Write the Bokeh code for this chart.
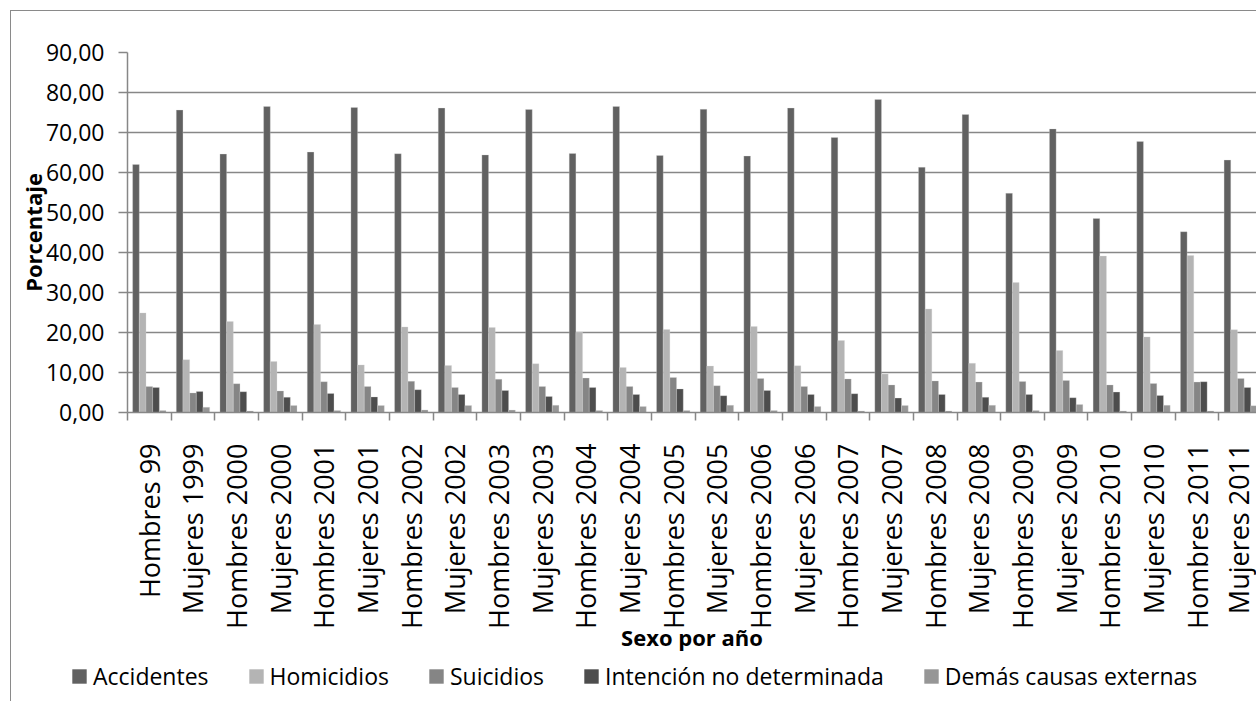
import numpy as np
from math import pi
from bokeh.plotting import figure
from bokeh.layouts import column
from bokeh.models import Range1d, FixedTicker, Legend, LegendItem, ColumnDataSource
from bokeh.transform import dodge
from bokeh.embed import file_html
from bokeh.resources import INLINE

categories = ["Hombres 99", "Mujeres 1999", "Hombres 2000", "Mujeres 2000", "Hombres 2001",
              "Mujeres 2001", "Hombres 2002", "Mujeres 2002", "Hombres 2003", "Mujeres 2003",
              "Hombres 2004", "Mujeres 2004", "Hombres 2005", "Mujeres 2005", "Hombres 2006",
              "Mujeres 2006", "Hombres 2007", "Mujeres 2007", "Hombres 2008", "Mujeres 2008",
              "Hombres 2009", "Mujeres 2009", "Hombres 2010", "Mujeres 2010", "Hombres 2011",
              "Mujeres 2011"]

accidentes = [62.0, 75.6, 64.6, 76.5, 65.1, 76.25, 64.7, 76.1, 64.4, 75.75, 64.75, 76.5, 64.25,
              75.8, 64.1, 76.1, 68.75, 78.25, 61.3, 74.5, 54.8, 70.9, 48.5, 67.75, 45.2, 63.1]
homicidios = [24.9, 13.2, 22.75, 12.75, 22.0, 11.9, 21.4, 11.75, 21.25, 12.2, 20.1, 11.25, 20.75,
              11.6, 21.5, 11.7, 18.0, 9.6, 25.9, 12.3, 32.5, 15.5, 39.1, 18.9, 39.25, 20.7]
suicidios = [6.5, 4.9, 7.2, 5.4, 7.7, 6.5, 7.8, 6.25, 8.3, 6.5, 8.6, 6.5, 8.75, 6.7, 8.5, 6.5,
             8.4, 6.9, 7.9, 7.6, 7.75, 8.0, 6.9, 7.25, 7.6, 8.5]
intencion = [6.25, 5.25, 5.2, 3.8, 4.75, 3.9, 5.7, 4.5, 5.5, 4.0, 6.25, 4.5, 5.9, 4.2, 5.5, 4.5,
             4.7, 3.6, 4.5, 3.8, 4.5, 3.7, 5.1, 4.25, 7.7, 6.25]
demas = [0.5, 1.3, 0.4, 1.75, 0.5, 1.75, 0.65, 1.75, 0.6, 1.8, 0.5, 1.5, 0.5, 1.8, 0.5, 1.5,
         0.4, 1.75, 0.4, 1.8, 0.5, 2.0, 0.4, 1.8, 0.4, 1.7]

series_names = ["Accidentes", "Homicidios", "Suicidios", "Intención no determinada",
                "Demás causas externas"]
series_values = [accidentes, homicidios, suicidios, intencion, demas]
series_colors = ["#616161", "#b4b4b4", "#858585", "#4d4d4d", "#969696"]

y_ticks = [0, 10, 20, 30, 40, 50, 60, 70, 80, 90]
y_tick_labels = ["0,00", "10,00", "20,00", "30,00", "40,00", "50,00", "60,00", "70,00",
                 "80,00", "90,00"]

FONT = "Open Sans"
GRID = "#878787"

idx = list(range(len(categories)))
data = {"x": idx}
for i, vals in enumerate(series_values):
    data["s%d" % i] = vals
source = ColumnDataSource(data)

p = figure(width=1245, height=647, output_backend="svg", toolbar_location=None,
           x_range=Range1d(-0.5, 25.36), y_range=Range1d(0, 90),
           min_border_left=116, min_border_right=0, min_border_top=41,
           min_border_bottom=246)
p.outline_line_color = None
p.background_fill_color = "white"
p.border_fill_color = "white"

bw = 0.153
for i in range(5):
    off = (i - 2) * bw
    p.vbar(x=dodge("x", off), top="s%d" % i, width=bw, source=source,
           fill_color=series_colors[i], line_color="#d9d9d9", line_width=0.5,
           line_alpha=0.6)

# grid
p.xgrid.grid_line_color = None
p.ygrid.ticker = FixedTicker(ticks=y_ticks)
p.ygrid.grid_line_color = GRID
p.ygrid.grid_line_width = 1.5

# y axis
ya = p.yaxis[0]
ya.ticker = FixedTicker(ticks=y_ticks)
ya.major_label_overrides = {t: l for t, l in zip(y_ticks, y_tick_labels)}
ya.axis_line_color = GRID
ya.axis_line_width = 1.5
ya.major_tick_line_color = GRID
ya.major_tick_line_width = 1.5
ya.major_tick_out = 9
ya.major_tick_in = 0
ya.minor_tick_line_color = None
ya.major_label_standoff = 14
ya.major_label_text_font = FONT
ya.major_label_text_font_size = "23px"
ya.major_label_text_color = "black"
ya.axis_label = "Porcentaje"
ya.axis_label_text_font = FONT
ya.axis_label_text_font_style = "bold"
ya.axis_label_text_font_size = "22px"
ya.axis_label_text_color = "black"
ya.axis_label_standoff = -5

# x axis
xa = p.xaxis[0]
xa.ticker = FixedTicker(ticks=idx, minor_ticks=[k - 0.5 for k in range(len(categories) + 1)])
xa.major_label_overrides = {i: c for i, c in enumerate(categories)}
xa.major_label_orientation = pi / 2
xa.axis_line_color = GRID
xa.axis_line_width = 1.5
xa.major_tick_line_color = None
xa.major_tick_out = 0
xa.major_tick_in = 0
xa.minor_tick_line_color = GRID
xa.minor_tick_line_width = 1.5
xa.minor_tick_out = 8
xa.minor_tick_in = 0
xa.major_label_standoff = 23
xa.major_label_text_font = FONT
xa.major_label_text_font_size = "27px"
xa.major_label_text_color = "black"
xa.axis_label = "Sexo por año"
xa.axis_label_text_font = FONT
xa.axis_label_text_font_style = "bold"
xa.axis_label_text_font_size = "22px"
xa.axis_label_text_color = "black"
xa.axis_label_standoff = -10

# legend strip (same series, glyphs hidden; only the legend is shown)
p2 = figure(width=1245, height=43, output_backend="svg", toolbar_location=None,
            x_range=Range1d(-0.5, 25.36), y_range=Range1d(0, 90),
            x_axis_location=None, y_axis_location=None,
            min_border_left=0, min_border_right=0, min_border_top=0, min_border_bottom=0)
p2.frame_align = False
p2.grid.visible = False
p2.outline_line_color = None
p2.background_fill_color = "white"
p2.border_fill_color = "white"
leg_renderers = []
for i in range(5):
    off = (i - 2) * bw
    r = p2.vbar(x=dodge("x", off), top="s%d" % i, width=bw, source=source,
                fill_color=series_colors[i], line_color=None, visible=False)
    leg_renderers.append(r)

legend = Legend(items=[LegendItem(label=n, renderers=[r]) for n, r in zip(series_names, leg_renderers)],
                orientation="horizontal", location=(59, 9))
legend.label_text_font = FONT
legend.label_text_font_size = "23px"
legend.label_text_color = "black"
legend.glyph_width = 18
legend.glyph_height = 18
legend.label_standoff = 5
legend.spacing = 38
legend.padding = 0
legend.margin = 0
legend.border_line_color = None
legend.background_fill_alpha = 0
legend.inactive_fill_alpha = 0
p2.add_layout(legend, "center")

layout = column(p, p2, spacing=0)
layout.styles = {"margin-left": "10px", "margin-top": "10px",
                 "border-left": "1px solid #8a8a8a", "border-top": "1px solid #8a8a8a"}

open("out.html", "w").write(file_html(layout, INLINE))
